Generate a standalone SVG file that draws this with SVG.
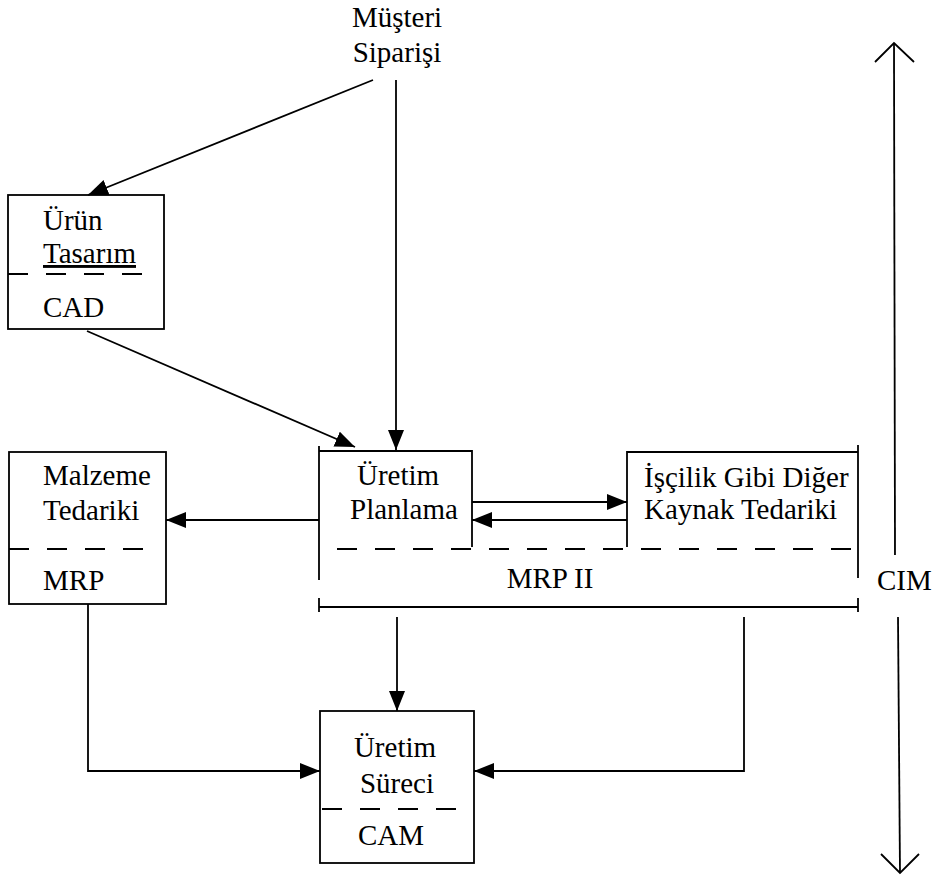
<svg xmlns="http://www.w3.org/2000/svg" width="939" height="878" viewBox="0 0 939 878">
<style>
text{font-family:"Liberation Serif","DejaVu Serif",serif;font-size:29px;fill:#000}
.ln{stroke:#000;stroke-width:1.8;fill:none}
.ds{stroke:#000;stroke-width:1.8;fill:none;stroke-dasharray:20 18}
.mid{text-anchor:middle}
</style>
<defs>
<marker id="ah" markerUnits="userSpaceOnUse" markerWidth="22" markerHeight="18" refX="20" refY="8" orient="auto">
<path d="M0,0 L20,8 L0,16 Z" fill="#000"/>
</marker>
</defs>
<rect width="939" height="878" fill="#fff"/>

<g id="musteri" font-family="Liberation Serif, DejaVu Serif, serif">
<text class="mid" x="397" y="27">Müşteri</text>
<text class="mid" x="397" y="62">Siparişi</text>
</g>

<g id="urun-tasarim">
<rect class="ln" x="8" y="195" width="156" height="134"/>
<line class="ds" x1="8" y1="274" x2="145" y2="274"/>
<text x="43" y="230">Ürün</text>
<text x="43" y="263" text-decoration="underline">Tasarım</text>
<text x="43" y="317">CAD</text>
</g>

<g id="malzeme">
<rect class="ln" x="9" y="452" width="157" height="152"/>
<line class="ds" x1="9" y1="549" x2="146" y2="549"/>
<text x="43" y="485">Malzeme</text>
<text x="43" y="520">Tedariki</text>
<text x="43" y="590">MRP</text>
</g>

<g id="mrp2">
<line class="ln" x1="319" y1="446" x2="319" y2="580"/>
<polyline class="ln" points="319,451 472,451 472,547"/>
<polyline class="ln" points="627,547 627,452 858,452"/>
<line class="ln" x1="858" y1="445" x2="858" y2="578"/>
<line class="ds" x1="337" y1="549" x2="858" y2="549"/>
<line class="ln" x1="319" y1="607" x2="858" y2="607"/>
<line class="ln" x1="319" y1="598" x2="319" y2="612"/>
<line class="ln" x1="858" y1="598" x2="858" y2="612"/>
<text x="357" y="485">Üretim</text>
<text x="350" y="519">Planlama</text>
<text x="644" y="487">İşçilik Gibi Diğer</text>
<text x="644" y="519">Kaynak Tedariki</text>
<text class="mid" x="550" y="588">MRP II</text>
</g>

<g id="uretim-sureci">
<rect class="ln" x="320" y="711" width="154" height="152"/>
<line class="ds" x1="322" y1="809" x2="458" y2="809"/>
<text class="mid" x="395" y="757">Üretim</text>
<text class="mid" x="397" y="793">Süreci</text>
<text class="mid" x="391" y="845">CAM</text>
</g>

<g id="cim">
<line class="ln" x1="894" y1="43" x2="895" y2="555"/>
<polyline class="ln" points="875,62 894,43 914,62"/>
<line class="ln" x1="898" y1="617" x2="900" y2="873"/>
<polyline class="ln" points="881,854 900,873 919,854"/>
<text x="877" y="590">CIM</text>
</g>

<g id="connectors">
<line class="ln" x1="373" y1="80" x2="88" y2="195" marker-end="url(#ah)"/>
<line class="ln" x1="396" y1="80" x2="396" y2="450" marker-end="url(#ah)"/>
<line class="ln" x1="87" y1="331" x2="355" y2="447" marker-end="url(#ah)"/>
<line class="ln" x1="319" y1="520" x2="166" y2="520" marker-end="url(#ah)"/>
<line class="ln" x1="472" y1="502" x2="627" y2="502" marker-end="url(#ah)"/>
<line class="ln" x1="627" y1="520" x2="472" y2="520" marker-end="url(#ah)"/>
<line class="ln" x1="397" y1="617" x2="397" y2="711" marker-end="url(#ah)"/>
<polyline class="ln" points="88,604 88,771 320,771" marker-end="url(#ah)"/>
<polyline class="ln" points="744,617 744,771 474,771" marker-end="url(#ah)"/>
</g>
</svg>
